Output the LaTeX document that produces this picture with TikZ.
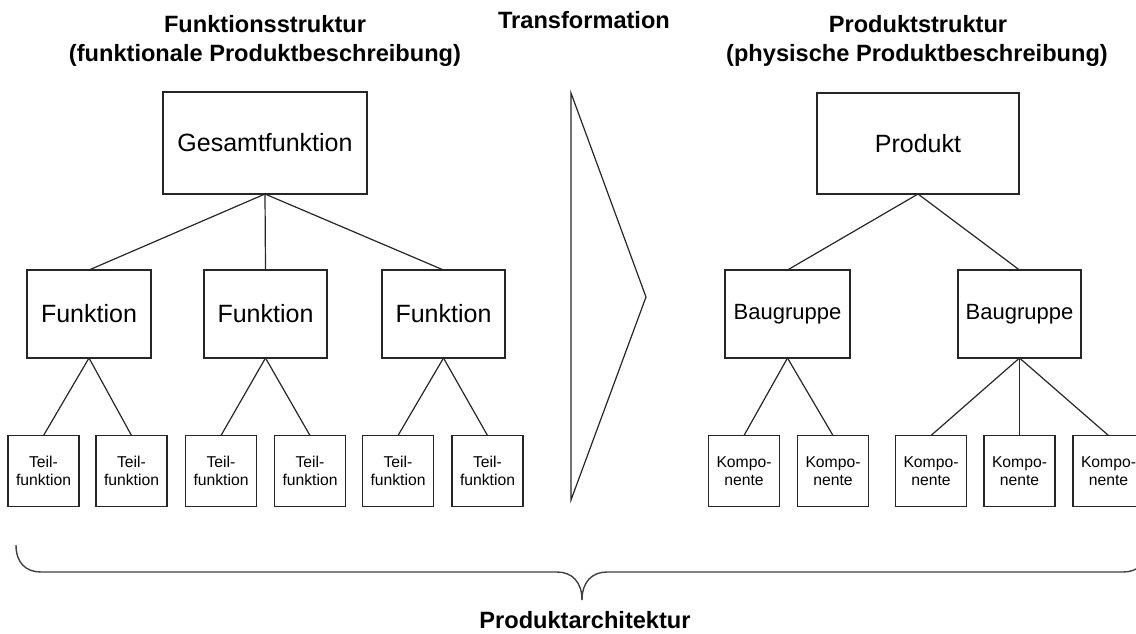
\documentclass[tikz,border=0pt]{standalone}
\usepackage{fontspec}
\setmainfont{Liberation Sans}
\begin{document}
\begin{tikzpicture}[x=1pt,y=-1pt,
  every node/.style={inner sep=0pt, outer sep=0pt, text=black},
  box/.style={draw=black!85, line width=1.2pt, rectangle},
  topbox/.style={box, font=\fontsize{25}{30}\selectfont},
  midbox/.style={box, minimum height=88pt},
  leafbox/.style={box, minimum width=71pt, minimum height=71pt, align=center,
    font=\fontsize{15.7}{18.2}\selectfont},
  title/.style={anchor=base, font=\bfseries\fontsize{23.6}{28}\selectfont},
  link/.style={draw=black!85, line width=1.2pt},
  brace/.style={draw=black!75, line width=1.4pt}
]
\useasboundingbox (0,0) rectangle (1136,633);

% headings
\node[title] (t1a) at (265,32) {Funktionsstruktur};
\node[title] (t1b) at (265,61) {(funktionale Produktbeschreibung)};
\node[title] (t2)  at (584,28) {Transformation};
\node[title] (t3a) at (918,32) {Produktstruktur};
\node[title] (t3b) at (917,61) {(physische Produktbeschreibung)};
\node[title] (t4)  at (585,628) {Produktarchitektur};

% function structure
\node[topbox, minimum width=204pt, minimum height=102pt] (gf) at (265,143) {Gesamtfunktion};
\node[midbox, minimum width=124pt, font=\fontsize{25}{30}\selectfont] (f1) at (89,314) {Funktion};
\node[midbox, minimum width=123pt, font=\fontsize{25}{30}\selectfont] (f2) at (265.5,314) {Funktion};
\node[midbox, minimum width=123pt, font=\fontsize{25}{30}\selectfont] (f3) at (443.5,314) {Funktion};
\node[leafbox] (tf1) at (43.5,471) {Teil-\\funktion};
\node[leafbox] (tf2) at (131.5,471) {Teil-\\funktion};
\node[leafbox] (tf3) at (221,471) {Teil-\\funktion};
\node[leafbox] (tf4) at (310,471) {Teil-\\funktion};
\node[leafbox] (tf5) at (398,471) {Teil-\\funktion};
\node[leafbox] (tf6) at (487.5,471) {Teil-\\funktion};

\foreach \f in {f1,f2,f3} \draw[link] (gf.south) -- (\f.north);
\draw[link] (f1.south) -- (tf1.north);
\draw[link] (f1.south) -- (tf2.north);
\draw[link] (f2.south) -- (tf3.north);
\draw[link] (f2.south) -- (tf4.north);
\draw[link] (f3.south) -- (tf5.north);
\draw[link] (f3.south) -- (tf6.north);

% transformation arrow
\draw[link, line join=miter] (571,93) -- (646,297) -- (571,500) -- cycle;

% product structure
\node[topbox, minimum width=202pt, minimum height=101pt] (pr) at (918,143.5) {Produkt};
\node[midbox, minimum width=125pt, font=\fontsize{22}{26}\selectfont] (bg1) at (787.5,314) {Baugruppe};
\node[midbox, minimum width=123pt, font=\fontsize{22}{26}\selectfont] (bg2) at (1019.5,314) {Baugruppe};
\node[leafbox] (k1) at (744,471) {Kompo-\\nente};
\node[leafbox] (k2) at (833,471) {Kompo-\\nente};
\node[leafbox] (k3) at (931,471) {Kompo-\\nente};
\node[leafbox] (k4) at (1019.5,471) {Kompo-\\nente};
\node[leafbox] (k5) at (1108.5,471) {Kompo-\\nente};

\draw[link] (pr.south) -- (bg1.north);
\draw[link] (pr.south) -- (bg2.north);
\draw[link] (bg1.south) -- (k1.north);
\draw[link] (bg1.south) -- (k2.north);
\foreach \k in {k3,k4,k5} \draw[link] (bg2.south) -- (\k.north);

% curly brace under both structures
\draw[brace] (16,545) .. controls (16,563) and (26,572) .. (41,572) -- (557,572)
  .. controls (572,572) and (582,582) .. (582,600);
\draw[brace] (582,600) .. controls (582,582) and (592,572) .. (607,572) -- (1123,572)
  .. controls (1138,572) and (1148,563) .. (1148,545);
\end{tikzpicture}
\end{document}
